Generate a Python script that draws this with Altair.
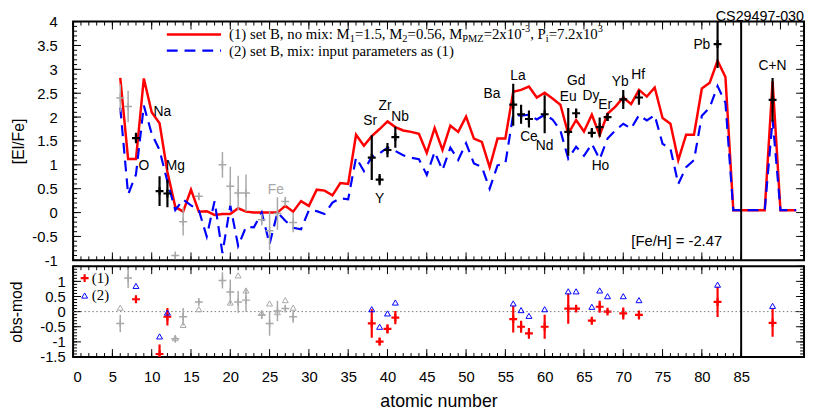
import altair as alt
import pandas as pd

# ---------------- data ----------------
Z_model = list(range(6, 93))
mod1 = [2.82, 1.12, 1.12, 2.81, 2.10, 1.87, 0.85, 0.12, 0.02, 0.48,
        0.02, 0.03, -0.05, -0.03, -0.03, 0.09, 0.02, 0.00, 0.00, 0.00,
        0.00, 0.14, 0.02, 0.24, 0.14, 0.48, 0.46, 0.36, 0.62, 0.60,
        1.63, 1.40, 1.60, 1.75, 1.91, 1.79, 1.72, 1.69, 1.65, 1.25,
        1.77, 1.31, 1.82, 1.69, 2.01, 1.55, 1.48, 0.95, 1.55, 1.55,
        2.53, 2.57, 2.64, 2.41, 2.51, 2.39, 2.26, 1.65, 1.94, 1.70,
        2.05, 1.62, 2.07, 2.22, 2.41, 2.27, 2.57, 2.43, 2.62, 1.98,
        1.86, 1.10, 1.63, 1.63, 2.60, 2.72, 3.18, 2.84, 0.05, 0.05,
        0.05, 0.05, 0.05, 2.75, 0.05, 0.05, 0.05]
mod2 = [2.20, 0.38, 0.80, 2.24, 1.65, 1.31, 0.65, 0.05, 0.27, 0.15,
        0.05, -0.50, 0.24, -0.85, 0.15, -0.70, -0.30, -0.31, 0.00, -0.66,
        0.00, -0.17, -0.32, -0.35, 0.05, 0.03, -0.03, 0.21, 0.30, 0.28,
        1.15, 0.87, 1.17, 1.24, 1.36, 1.29, 1.20, 1.15, 1.12, 0.79,
        1.27, 0.89, 1.36, 1.10, 1.45, 1.03, 0.96, 0.50, 0.99, 1.03,
        2.06, 2.03, 2.05, 1.95, 2.05, 1.95, 1.72, 1.13, 1.38, 1.19,
        1.44, 1.12, 1.55, 1.72, 1.86, 1.76, 2.04, 1.93, 2.04, 1.44,
        1.34, 0.60, 0.95, 1.10, 2.03, 2.20, 2.65, 2.30, 0.05, 0.05,
        0.05, 0.05, 0.05, 1.95, 0.05, 0.05, 0.05]

obs_Z = [8, 11, 12, 38, 39, 40, 41, 56, 57, 58, 60, 63, 64, 66, 67, 68, 70, 72, 82, 89]
obs_val = [1.56, 0.45, 0.40, 1.15, 0.69, 1.31, 1.58, 2.26, 2.06, 1.96,
           2.06, 1.69, 2.08, 1.67, 1.79, 2.00, 2.37, 2.41, 3.53, 2.36]
obs_err = [0.11, 0.31, 0.29, 0.47, 0.12, 0.15, 0.22, 0.44, 0.20, 0.18,
           0.40, 0.50, 0.10, 0.10, 0.20, 0.08, 0.20, 0.15, 0.50, 0.46]
res1 = [0.41, -1.40, -0.17, -0.39, -0.99, -0.57, -0.20, -0.25, -0.50, -0.72,
        -0.50, 0.10, 0.10, -0.30, 0.16, 0.00, -0.06, -0.11, 0.32, -0.37]
res2 = [0.85, -0.82, -0.03, 0.08, -0.50, -0.06, 0.30, 0.27, 0.05, -0.14,
        0.08, 0.67, 0.67, 0.16, 0.70, 0.51, 0.51, 0.38, 0.89, 0.19]

gray_Z = [6, 7, 13, 14, 16, 19, 20, 21, 22, 24, 25, 26, 27, 28]
gray_val = [2.40, 2.22, -0.90, -0.19, 0.34, 1.00, 0.55, 0.41, 0.41, -0.15, -0.38, -0.02, 0.23, -0.21]
gray_err = [0.29, 0.33, 0.03, 0.29, 0.07, 0.27, 0.41, 0.36, 0.39, 0.12, 0.41, 0.34, 0.10, 0.20]
gray_res1 = [-0.39, 1.11, -0.90, -0.17, 0.32, 1.03, 0.65, 0.32, 0.38, -0.11, -0.39, 0.02, 0.10, -0.17]
gray_res2 = [0.13, 1.84, -0.88, -0.44, 0.08, 1.85, 0.30, 1.20, 0.70, -0.04, 0.27, -0.02, 0.38, 0.13]

lab_text = ["Na", "O", "Mg", "Sr", "Y", "Zr", "Nb", "Ba", "La", "Ce", "Nd",
            "Eu", "Gd", "Dy", "Ho", "Er", "Yb", "Hf", "Pb", "C+N"]
lab_Z = [11.35, 9.0, 13.0, 37.8, 39.0, 39.7, 41.6, 53.3, 56.6, 58.0, 60.0,
         63.0, 64.0, 65.9, 67.1, 67.7, 69.6, 71.9, 80.0, 89.0]
lab_v = [2.10, 0.98, 0.98, 1.91, 0.28, 2.24, 2.00, 2.48, 2.87, 1.58, 1.40,
         2.43, 2.75, 2.44, 0.98, 2.26, 2.73, 2.89, 3.51, 3.06]
fe_lab = ("Fe", 25.8, 0.48)
split_Z = [85]
zero_line = [0]

title_text = "CS29497-030"
feh_text = "[Fe/H] = -2.47"
leg2_text = "(2) set B, mix: input parameters as (1)"
leg1_segments = [("(1) set B, no mix: M", 0), ("1", 1), ("=1.5, M", 0), ("2", 1),
                 ("=0.56, M", 0), ("PMZ", 1), ("=2x10", 0), ("-3", -1),
                 (", P", 0), ("i", 1), ("=7.2x10", 0), ("3", -1)]

x_major_top = list(range(0, 91, 5))
x_minor_top = list(range(0, 93))
x_major = list(range(0, 86, 5))
x_minor = list(range(0, 86))
y1_ticklabels = [-1 + 0.5 * i for i in range(11)]
y1_minor = [round(-1 + 0.1 * i, 2) for i in range(51)]
y2_ticklabels = [-1.5, -1, -0.5, 0, 0.5, 1]
y2_major = [-1.5 + 0.5 * i for i in range(7)]
y2_minor = [round(-1.5 + 0.1 * i, 2) for i in range(31)]

# ---------------- style ----------------
SANS = "Liberation Sans"
NARROW = "Liberation Sans Narrow, Liberation Sans"
SERIF = "Liberation Serif"
RED = "#ff0000"
BLUE = "#0000ff"
GRAY = "#a8a8a8"
PLUS = "M-1,0H1M0,-1V1"
W, H1, H2 = 741, 242, 92
MAJ, MIN = 8, 4

xs = alt.Scale(domain=[0, 93], nice=False, zero=False)
ys1 = alt.Scale(domain=[-1, 4], nice=False, zero=False)
ys2 = alt.Scale(domain=[-1.5, 1.5], nice=False, zero=False)

yaxis1 = alt.Axis(values=y1_ticklabels, labelExpr="'' + datum.value", ticks=False, tickSize=0,
                  domain=False, grid=False, labelPadding=16, labelFontSize=15,
                  title="[El/Fe]", titleFontSize=16, titleX=-55, titleY=H1 / 2,
                  titleBaseline="middle")
xaxis2 = alt.Axis(values=x_major, ticks=False, tickSize=0, domain=False, grid=False,
                  labelPadding=25, labelBaseline="alphabetic", labelFontSize=15,
                  title="atomic number", titleFontSize=18, titleY=50,
                  titleBaseline="alphabetic")
yaxis2 = alt.Axis(values=y2_ticklabels, labelExpr="'' + datum.value", ticks=False, tickSize=0,
                  domain=False, grid=False, labelPadding=8, labelFontSize=15,
                  title="obs-mod", titleFontSize=16, titleX=-57, titleY=H2 / 2,
                  titleBaseline="middle")

one = pd.DataFrame({"a": [0]})

df_mod = pd.DataFrame({"Z": Z_model, "m1": mod1, "m2": mod2})
df_obs = pd.DataFrame({
    "Z": obs_Z, "v": obs_val,
    "lo": [v - e for v, e in zip(obs_val, obs_err)],
    "hi": [v + e for v, e in zip(obs_val, obs_err)],
    "r1": res1, "r2": res2,
    "r1lo": [v - e for v, e in zip(res1, obs_err)],
    "r1hi": [v + e for v, e in zip(res1, obs_err)],
})
df_gray = pd.DataFrame({
    "Z": gray_Z, "v": gray_val,
    "lo": [v - e for v, e in zip(gray_val, gray_err)],
    "hi": [v + e for v, e in zip(gray_val, gray_err)],
    "r1": gray_res1, "r2": gray_res2,
    "r1lo": [v - e for v, e in zip(gray_res1, gray_err)],
    "r1hi": [v + e for v, e in zip(gray_res1, gray_err)],
})
df_lab = pd.DataFrame({"Z": lab_Z, "v": lab_v, "t": lab_text})
df_fe = pd.DataFrame({"Z": [fe_lab[1]], "v": [fe_lab[2]], "t": [fe_lab[0]]})

X1 = alt.X("Z:Q", scale=xs, axis=None)
X2 = alt.X("Z:Q", scale=xs, axis=xaxis2)


def Y1(f):
    return alt.Y(f, scale=ys1, axis=yaxis1)


def Y2(f):
    return alt.Y(f, scale=ys2, axis=yaxis2)


def xticks(X, vals, y0, y1):
    return alt.Chart(pd.DataFrame({"Z": vals})).mark_rule(color="black", strokeWidth=1).encode(
        x=X, y=alt.value(y0), y2=alt.value(y1))


def yticks(Yf, vals, x0, x1):
    return alt.Chart(pd.DataFrame({"t": vals})).mark_rule(color="black", strokeWidth=1).encode(
        y=Yf("t:Q"), x=alt.value(x0), x2=alt.value(x1))


def frame_ticks(X, Yf, h, ymaj, ymin, xmaj_top, xmin_top, xmaj_bot, xmin_bot):
    return [
        xticks(X, xmin_top, 0, MIN), xticks(X, xmaj_top, 0, MAJ),
        xticks(X, xmin_bot, h, h - MIN), xticks(X, xmaj_bot, h, h - MAJ),
        yticks(Yf, ymin, 0, MIN), yticks(Yf, ymaj, 0, MAJ),
        yticks(Yf, ymin, W, W - MIN), yticks(Yf, ymaj, W, W - MAJ),
    ]


TW = {'(': 333, ')': 333, ' ': 250, 's': 389, 'e': 444, 't': 278, 'B': 667, ',': 250,
      'n': 500, 'o': 500, 'm': 778, 'i': 278, 'x': 500, ':': 278, 'M': 889, '=': 564,
      '.': 250, 'P': 556, 'Z': 611, '-': 333}


def tw(s, fs):
    return sum(TW.get(c, 500) for c in s) * fs / 1000.0


# ---------------- top panel ----------------
top_layers = []
top_layers.append(alt.Chart(df_mod).mark_line(color=RED, strokeWidth=2.5, clip=True).encode(
    x=X1, y=Y1("m1:Q")))
top_layers.append(alt.Chart(df_mod).mark_line(color=BLUE, strokeWidth=2.2, strokeDash=[11, 7], clip=True).encode(
    x=X1, y=Y1("m2:Q")))
top_layers += frame_ticks(X1, Y1, H1, y1_ticklabels, y1_minor, x_major_top, x_minor_top, x_major, x_minor)
top_layers.append(alt.Chart(df_gray).mark_rule(color=GRAY, strokeWidth=1.5, clip=True).encode(
    x=X1, y=Y1("lo:Q"), y2="hi:Q"))
top_layers.append(alt.Chart(df_gray).mark_point(shape=PLUS, size=64, filled=False, color=GRAY,
                                                strokeWidth=1.5, opacity=1, clip=True).encode(
    x=X1, y=Y1("v:Q")))
top_layers.append(alt.Chart(df_obs).mark_rule(color="black", strokeWidth=2.2, clip=True).encode(
    x=X1, y=Y1("lo:Q"), y2="hi:Q"))
top_layers.append(alt.Chart(df_obs).mark_point(shape=PLUS, size=64, filled=False, color="black",
                                               strokeWidth=2.2, opacity=1, clip=True).encode(
    x=X1, y=Y1("v:Q")))
top_layers.append(alt.Chart(df_lab).mark_text(font=SANS, fontSize=14, color="black").encode(
    x=X1, y=Y1("v:Q"), text="t:N"))
top_layers.append(alt.Chart(df_fe).mark_text(font=SANS, fontSize=14, color=GRAY).encode(
    x=X1, y=Y1("v:Q"), text="t:N"))
top_layers.append(alt.Chart(pd.DataFrame({"Z": split_Z})).mark_rule(color="black", strokeWidth=2).encode(x=X1))
# legend
top_layers.append(alt.Chart(one).mark_rule(color=RED, strokeWidth=2.5).encode(
    x=alt.value(95), x2=alt.value(150), y=alt.value(13)))
top_layers.append(alt.Chart(one).mark_rule(color=BLUE, strokeWidth=2.2, strokeDash=[11, 7]).encode(
    x=alt.value(95), x2=alt.value(150), y=alt.value(29.5)))
cx = 158.0
for seg, kind in leg1_segments:
    fs = 15 if kind == 0 else 10.5
    dy = 0 if kind == 0 else (4.5 if kind == 1 else -5)
    top_layers.append(alt.Chart(one).mark_text(font=SERIF, fontSize=fs, align="left",
                                               baseline="middle", color="black").encode(
        x=alt.value(cx), y=alt.value(13 + dy), text=alt.value(seg)))
    cx += tw(seg, fs)
top_layers.append(alt.Chart(one).mark_text(font=SERIF, fontSize=15, align="left",
                                           baseline="middle", color="black").encode(
    x=alt.value(158), y=alt.value(29.5), text=alt.value(leg2_text)))
top_layers.append(alt.Chart(one).mark_text(font=NARROW, fontSize=15, align="right",
                                           baseline="alphabetic", color="black").encode(
    x=alt.value(658), y=alt.value(227), text=alt.value(feh_text)))
top_layers.append(alt.Chart(one).mark_text(font=SANS, fontSize=14.5, align="right",
                                           baseline="alphabetic", color="black").encode(
    x=alt.value(W), y=alt.value(-1), text=alt.value(title_text)))

top = alt.layer(*top_layers).properties(width=W, height=H1)

# ---------------- bottom panel ----------------
bot_layers = []
bot_layers.append(alt.Chart(df_obs).mark_point(shape=PLUS, size=64, filled=False, color=RED,
                                               strokeWidth=2.2, opacity=1, clip=True).encode(
    x=X2, y=Y2("r1:Q")))
bot_layers += frame_ticks(X2, Y2, H2, y2_major, y2_minor, x_major, x_minor, x_major, x_minor)
bot_layers.append(alt.Chart(pd.DataFrame({"v": zero_line})).mark_rule(
    color="#777777", strokeWidth=1, strokeDash=[1.5, 2.5]).encode(y=Y2("v:Q")))
bot_layers.append(alt.Chart(pd.DataFrame({"Z": split_Z})).mark_rule(color="black", strokeWidth=2).encode(x=X2))
bot_layers.append(alt.Chart(df_gray).mark_rule(color=GRAY, strokeWidth=1.5, clip=True).encode(
    x=X2, y=Y2("r1lo:Q"), y2="r1hi:Q"))
bot_layers.append(alt.Chart(df_gray).mark_point(shape=PLUS, size=64, filled=False, color=GRAY,
                                                strokeWidth=1.5, opacity=1, clip=True).encode(
    x=X2, y=Y2("r1:Q")))
bot_layers.append(alt.Chart(df_gray).mark_point(shape="triangle-up", size=36, filled=False, color=GRAY,
                                                strokeWidth=1, opacity=1, clip=True).encode(
    x=X2, y=Y2("r2:Q")))
bot_layers.append(alt.Chart(df_obs).mark_rule(color=RED, strokeWidth=2.2, clip=True).encode(
    x=X2, y=Y2("r1lo:Q"), y2="r1hi:Q"))
bot_layers.append(alt.Chart(df_obs).mark_point(shape="triangle-up", size=36, filled=False, color=BLUE,
                                               strokeWidth=1, opacity=1, clip=True).encode(
    x=X2, y=Y2("r2:Q")))
# legend
bot_layers.append(alt.Chart(one).mark_point(shape=PLUS, size=64, filled=False, color=RED,
                                            strokeWidth=2.2, opacity=1).encode(
    x=alt.value(11.7), y=alt.value(12)))
bot_layers.append(alt.Chart(one).mark_point(shape="triangle-up", size=36, filled=False, color=BLUE,
                                            strokeWidth=1, opacity=1).encode(
    x=alt.value(11.7), y=alt.value(29.7)))
bot_layers.append(alt.Chart(one).mark_text(font=SERIF, fontSize=15, align="left", baseline="middle",
                                           color="black").encode(
    x=alt.value(19), y=alt.value(12), text=alt.value("(1)")))
bot_layers.append(alt.Chart(one).mark_text(font=SERIF, fontSize=15, align="left", baseline="middle",
                                           color="black").encode(
    x=alt.value(19), y=alt.value(29.7), text=alt.value("(2)")))

bottom = alt.layer(*bot_layers).properties(width=W, height=H2)

chart = alt.vconcat(top, bottom, spacing=6, bounds="flush").properties(
    padding={"top": -3, "left": 0, "right": 0, "bottom": 0},
).configure_view(stroke="black", strokeWidth=2).configure_axis(
    labelFont=SANS, titleFont=SANS, labelColor="black", titleColor="black",
    titleFontWeight="normal")

chart.save("out.html", embed_options={"renderer": "svg", "actions": False})
